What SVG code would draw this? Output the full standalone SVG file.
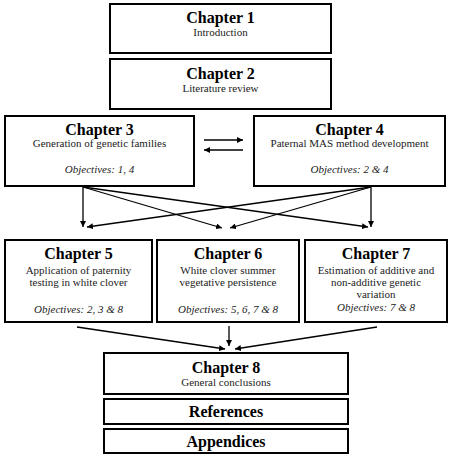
<svg xmlns="http://www.w3.org/2000/svg" width="452" height="458" viewBox="0 0 452 458">
<style>
.box{fill:#fff;stroke:#000;stroke-width:2}
text{font-family:'Liberation Serif','DejaVu Serif',serif;text-anchor:middle}
.h{font-weight:bold;font-size:16px;fill:#000}
.t{font-size:11px;fill:#222}
.o{font-size:11px;font-style:italic;fill:#222}
.c{stroke:#000;stroke-width:1.3;fill:none;marker-end:url(#ah)}
</style>
<defs>
<marker id="ah" viewBox="0 0 10 10" refX="10" refY="5" markerWidth="6" markerHeight="6" markerUnits="userSpaceOnUse" orient="auto">
<path d="M0,0 L10,5 L0,10 z" fill="#000"/>
</marker>
</defs>
<rect width="452" height="458" fill="#fff"/>
<g id="connectors">
<line class="c" x1="204" y1="140" x2="243" y2="140"/>
<line class="c" x1="243" y1="150" x2="204" y2="150"/>
<line class="c" x1="83" y1="187" x2="83" y2="227"/>
<line class="c" x1="83" y1="187" x2="222" y2="228"/>
<line class="c" x1="83" y1="187" x2="368" y2="227"/>
<line class="c" x1="371" y1="187" x2="371" y2="227"/>
<line class="c" x1="371" y1="187" x2="230" y2="228"/>
<line class="c" x1="371" y1="187" x2="87" y2="227"/>
<line class="c" x1="77" y1="327" x2="225" y2="349"/>
<line class="c" x1="229" y1="326" x2="229" y2="346"/>
<line class="c" x1="377" y1="327" x2="235" y2="349"/>
</g>
<g id="ch1">
<rect class="box" x="110" y="4" width="221" height="49"/>
<text class="h" x="220.5" y="23" font-family="Liberation Serif">Chapter 1</text>
<text class="t" x="220.5" y="36">Introduction</text>
</g>
<g id="ch2">
<rect class="box" x="110" y="59" width="221" height="50"/>
<text class="h" x="220.5" y="79">Chapter 2</text>
<text class="t" x="220.5" y="92">Literature review</text>
</g>
<g id="ch3">
<rect class="box" x="5" y="116" width="189" height="70"/>
<text class="h" x="99.5" y="135">Chapter 3</text>
<text class="t" x="99.5" y="147">Generation of genetic families</text>
<text class="o" x="99.5" y="173">Objectives: 1, 4</text>
</g>
<g id="ch4">
<rect class="box" x="254" y="116" width="191" height="70"/>
<text class="h" x="349.5" y="135">Chapter 4</text>
<text class="t" x="349.5" y="147">Paternal MAS method development</text>
<text class="o" x="349.5" y="173">Objectives: 2 &amp; 4</text>
</g>
<g id="ch5">
<rect class="box" x="5" y="240" width="147" height="82"/>
<text class="h" x="78.5" y="259">Chapter 5</text>
<text class="t" x="78.5" y="274">Application of paternity</text>
<text class="t" x="78.5" y="286">testing in white clover</text>
<text class="o" x="78.5" y="313">Objectives: 2, 3 &amp; 8</text>
</g>
<g id="ch6">
<rect class="box" x="157" y="240" width="142" height="82"/>
<text class="h" x="228" y="259">Chapter 6</text>
<text class="t" x="228" y="274">White clover summer</text>
<text class="t" x="228" y="286">vegetative persistence</text>
<text class="o" x="228" y="313">Objectives: 5, 6, 7 &amp; 8</text>
</g>
<g id="ch7">
<rect class="box" x="305" y="240" width="142" height="82"/>
<text class="h" x="376" y="259">Chapter 7</text>
<text class="t" x="376" y="274">Estimation of additive and</text>
<text class="t" x="376" y="286">non-additive genetic</text>
<text class="t" x="376" y="298">variation</text>
<text class="o" x="376" y="311">Objectives: 7 &amp; 8</text>
</g>
<g id="ch8">
<rect class="box" x="104" y="353" width="244" height="41"/>
<text class="h" x="226" y="373">Chapter 8</text>
<text class="t" x="226" y="386">General conclusions</text>
</g>
<g id="references">
<rect class="box" x="104" y="399" width="244" height="25"/>
<text class="h" x="226" y="417">References</text>
</g>
<g id="appendices">
<rect class="box" x="104" y="429" width="244" height="24"/>
<text class="h" x="226" y="447">Appendices</text>
</g>
</svg>
